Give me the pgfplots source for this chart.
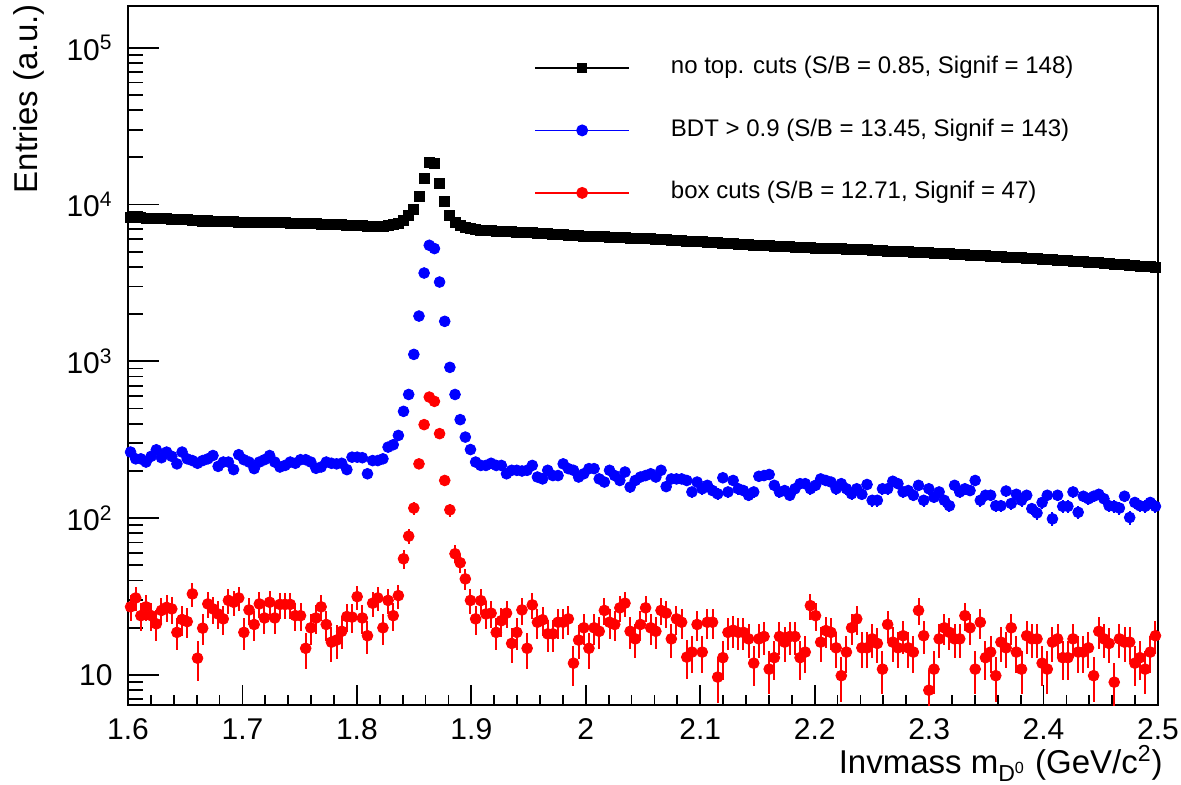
\documentclass[border=0pt]{standalone}
\usepackage{pgfplots}
\pgfplotsset{compat=1.18}
\usepackage{pgfplotstable}
\usepackage{fontspec}
\setmainfont{Liberation Sans}
\definecolor{rootblue}{RGB}{0,0,255}
\definecolor{rootred}{RGB}{255,0,0}
\pgfplotstableread{
x black blue red
1.60225 8300 264 27.2
1.60675 8250 239 31.0
1.61125 8280 239 23.9
1.61575 8200 228 27.2
1.62025 8220 248 23.9
1.62475 8150 273 21.2
1.62925 8180 243 25.8
1.63375 8120 264 27.0
1.63825 8100 248 26.4
1.64275 8060 222 18.7
1.64725 8050 264 22.6
1.65175 8000 239 21.9
1.65625 7950 233 32.9
1.66075 7900 224 12.8
1.66525 7860 233 19.9
1.66975 7880 239 28.4
1.67425 7820 251 26.4
1.67875 7800 214 24.5
1.68325 7810 228 22.8
1.68775 7760 228 29.9
1.69225 7780 204 29.1
1.69675 7750 254 31.0
1.70125 7740 236 18.7
1.70575 7720 228 26.0
1.71025 7730 207 21.0
1.71475 7700 228 28.4
1.71925 7680 236 23.1
1.72375 7700 251 29.1
1.72825 7660 228 23.1
1.73275 7650 212 28.2
1.73725 7640 217 28.2
1.74175 7620 228 28.2
1.74625 7630 224 23.9
1.75075 7610 236 23.9
1.75525 7580 236 14.8
1.75975 7560 228 20.0
1.76425 7540 208 23.1
1.76875 7520 212 27.2
1.77325 7500 228 21.0
1.77775 7480 224 16.2
1.78225 7450 222 16.7
1.78675 7430 224 19.0
1.79125 7400 204 23.6
1.79575 7380 245 23.4
1.80025 7350 245 31.6
1.80475 7320 243 23.1
1.80925 7300 192 17.8
1.81375 7290 233 28.7
1.81825 7280 233 31.0
1.82275 7290 239 20.0
1.82725 7330 284 29.9
1.83175 7420 294 23.9
1.83625 7560 337 32.1
1.84075 7900 480 55.1
1.84525 8500 615 76.8
1.84975 9300 1108 116
1.85425 11200 1945 222
1.85875 14650 3660 395
1.86325 18480 5500 592
1.86775 18280 5240 556
1.87225 13620 3206 346
1.87675 10500 1800 174
1.88125 8550 916 113
1.88575 7740 615 59.3
1.89025 7380 425 52.0
1.89475 7200 329 41.0
1.89925 7080 274 29.9
1.90375 6980 228 22.8
1.90825 6880 217 29.8
1.91275 6850 217 24.5
1.91725 6830 224 24.8
1.92175 6790 217 18.7
1.92625 6780 217 22.2
1.93075 6740 192 24.8
1.93525 6700 202 15.9
1.93975 6690 202 18.7
1.94425 6650 200 26.0
1.94875 6640 202 14.8
1.95325 6600 217 28.0
1.95775 6560 183 21.7
1.96225 6560 178 22.5
1.96675 6510 202 18.3
1.97125 6480 187 18.3
1.97575 6460 187 21.7
1.98025 6420 222 21.7
1.98475 6400 207 22.8
1.98925 6380 202 11.9
1.99375 6340 183 16.7
1.99825 6300 192 20.0
2.00275 6290 207 14.8
2.00725 6260 207 20.0
2.01175 6250 178 19.0
2.01625 6220 170 25.8
2.02075 6200 202 21.7
2.02525 6180 187 21.0
2.02975 6160 174 26.8
2.03425 6140 197 28.7
2.03875 6120 158 19.0
2.04325 6100 174 17.0
2.04775 6080 183 21.0
2.05225 6070 187 26.8
2.05675 6040 192 20.0
2.06125 6010 183 19.0
2.06575 5990 202 25.8
2.07025 5960 159 24.8
2.07475 5940 178 17.0
2.07925 5900 178 22.8
2.08375 5880 178 21.7
2.08825 5860 174 13.0
2.09275 5830 147 14.0
2.09725 5800 170 21.0
2.10175 5780 154 14.0
2.10625 5750 162 21.7
2.11075 5720 150 21.7
2.11525 5700 143 9.7
2.11975 5670 181 12.9
2.12425 5650 147 18.7
2.12875 5620 174 19.3
2.13325 5600 154 18.7
2.13775 5570 150 18.7
2.14225 5550 140 17.0
2.14675 5520 147 11.9
2.15125 5500 185 17.0
2.15575 5480 187 17.6
2.16025 5450 190 10.9
2.16475 5430 162 12.9
2.16925 5410 147 17.6
2.17375 5390 150 16.2
2.17825 5370 140 17.6
2.18275 5360 154 17.6
2.18725 5340 166 12.9
2.19175 5320 166 14.0
2.19625 5300 154 27.7
2.20075 5290 162 23.9
2.20525 5280 178 16.2
2.20975 5270 174 19.2
2.21425 5250 170 18.7
2.21875 5240 154 14.9
2.22325 5220 166 9.9
2.22775 5200 154 14.0
2.23225 5190 143 20.0
2.23675 5170 154 22.8
2.24125 5150 142 14.9
2.24575 5140 164 14.9
2.25025 5120 130 17.0
2.25475 5100 130 15.9
2.25925 5080 154 10.9
2.26375 5060 154 21.0
2.26825 5050 172 16.2
2.27275 5030 166 14.9
2.27725 5010 147 17.8
2.28175 4990 150 14.9
2.28625 4970 140 14.0
2.29075 4960 162 25.8
2.29525 4940 130 17.8
2.29975 4920 154 8.0
2.30425 4900 136 10.9
2.30875 4880 147 17.0
2.31325 4860 130 20.0
2.31775 4850 120 18.7
2.32225 4830 162 17.0
2.32675 4810 147 17.0
2.33125 4790 154 23.9
2.33575 4770 150 20.0
2.34025 4750 174 10.9
2.34475 4730 130 21.7
2.34925 4710 140 12.9
2.35375 4690 140 14.0
2.35825 4670 120 9.9
2.36275 4650 120 16.2
2.36725 4630 149 14.9
2.37175 4610 124 20.0
2.37625 4590 142 14.0
2.38075 4570 130 10.9
2.38525 4550 140 17.8
2.38975 4530 115 17.0
2.39425 4510 108 17.0
2.39875 4490 126 11.9
2.40325 4470 140 10.9
2.40775 4450 99 16.2
2.41225 4430 140 17.0
2.41675 4410 119 12.9
2.42125 4390 119 12.9
2.42575 4370 147 17.0
2.43025 4350 109 14.0
2.43475 4320 138 14.0
2.43925 4300 133 14.9
2.44375 4280 138 9.9
2.44825 4250 142 19.0
2.45275 4230 133 17.0
2.45725 4200 120 15.9
2.46175 4180 119 9.0
2.46625 4150 116 17.0
2.47075 4130 138 16.2
2.47525 4100 101 16.2
2.47975 4080 126 11.9
2.48425 4050 120 12.9
2.48875 4030 119 10.9
2.49325 4010 126 14.0
2.49775 4000 119 17.8
}\data
\begin{document}
\begin{tikzpicture}
\path[use as bounding box] (-64pt,-39.5pt) rectangle (526.5pt,352.5pt);
\begin{axis}[
  at={(0pt,0pt)}, anchor=south west,
  scale only axis, width=515pt, height=349.65pt,
  ymode=log,
  xmin=1.6, xmax=2.5, ymin=6.437, ymax=1.854e5,
  axis line style={line width=0.9pt},
  tick align=inside, tick pos=left,
  tick style={line width=0.9pt, black},
  major tick length=15.5pt, minor tick length=7.5pt,
  major x tick style={/pgfplots/major tick length=10pt},
  minor x tick style={/pgfplots/minor tick length=5pt},
  xtick={1.6,1.7,1.8,1.9,2.0,2.1,2.2,2.3,2.4,2.5},
  xticklabels={1.6,1.7,1.8,1.9,2,2.1,2.2,2.3,2.4,2.5},
  minor x tick num=4,
  ytick={10,100,1000,10000,100000},
  yticklabels={10,10\textsuperscript{2},10\textsuperscript{3},10\textsuperscript{4},10\textsuperscript{5}},
  minor ytick={7,8,9,20,30,40,50,60,70,80,90,200,300,400,500,600,700,800,900,2000,3000,4000,5000,6000,7000,8000,9000,20000,30000,40000,50000,60000,70000,80000,90000},
  ticklabel style={font=\fontsize{15}{18}\selectfont},
  yticklabel style={inner sep=0pt, xshift=-7.5pt},
  xticklabel style={inner sep=0pt, yshift=-6.75pt},
  xlabel={Invmass m\textsubscript{D\textsuperscript{0}} (GeV/c\textsuperscript{2})},
  xlabel style={at={(axis description cs:1.0049,-0.0985)}, anchor=base east, inner sep=0pt, font=\fontsize{16.5}{20}\selectfont},
  ylabel={Entries (a.u.)},
  ylabel style={at={(axis description cs:-0.0806,1.0024)}, anchor=south east, inner sep=0pt, font=\fontsize{16.5}{20}\selectfont},
  legend style={draw=none, fill=none, at={(axis description cs:0.3942,0.9288)}, anchor=north west,
    inner sep=0pt, row sep=19.25pt, column sep=20.5pt,
    font=\fontsize{12}{14}\selectfont,
    nodes={inner sep=0pt, text height=9pt, text depth=3pt}},
  legend cell align=left,
  legend image code/.code={\draw[mark repeat=2, mark phase=2, #1] plot coordinates {(0pt,0pt) (23.5pt,0pt) (47pt,0pt)};},
]
\addlegendimage{black, line width=0.75pt, mark=square*, mark size=2.2pt, mark options={solid}}
\addlegendentry{no top. cuts (S/B = 0.85, Signif = 148)}
\addlegendimage{rootblue, line width=0.75pt, mark=*, mark size=2.6pt}
\addlegendentry{BDT > 0.9 (S/B = 13.45, Signif = 143)}
\addlegendimage{rootred, line width=0.75pt, mark=*, mark size=2.6pt}
\addlegendentry{box cuts (S/B = 12.71, Signif = 47)}

\addplot[forget plot, only marks, mark=square*, mark size=2.5pt, black] table[x=x, y=black] {\data};
\addplot[forget plot, only marks, mark=*, mark size=2.7pt, rootblue,
  error bars/.cd, y dir=both, y explicit, error mark=none, error bar style={line width=1pt}]
  table[x=x, y=blue, y error expr={sqrt(\thisrow{blue})}] {\data};
\addplot[forget plot, only marks, mark=*, mark size=2.7pt, rootred,
  error bars/.cd, y dir=both, y explicit, error mark=none, error bar style={line width=1pt}]
  table[x=x, y=red, y error expr={sqrt(\thisrow{red})}] {\data};
\end{axis}
\end{tikzpicture}
\end{document}
